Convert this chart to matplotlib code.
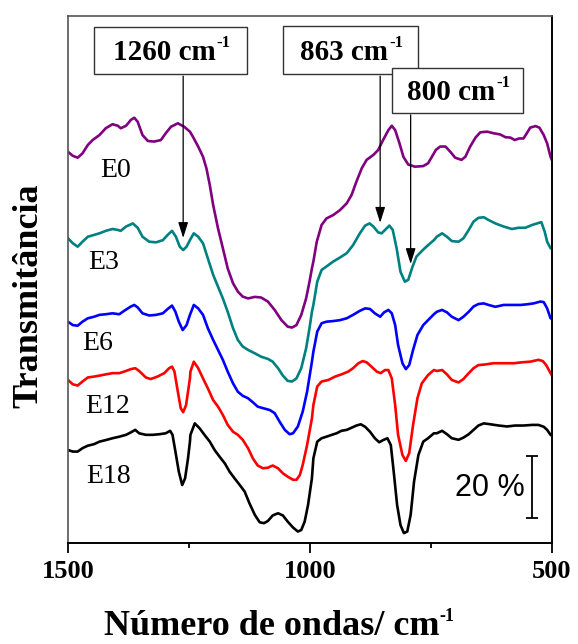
import matplotlib
matplotlib.use("Agg")
import matplotlib.pyplot as plt
from matplotlib.patches import Rectangle

# FTIR spectra: wavenumber (cm-1) and offset transmittance (%)
wn_e0 = [1500, 1490, 1480, 1470, 1459, 1449, 1435, 1422, 1408, 1397, 1391, 1380, 1370, 1363, 1356, 1346,
         1335, 1322, 1308, 1298, 1287, 1273, 1260, 1248,
         1242, 1231, 1221, 1214, 1207, 1200, 1190, 1180, 1170, 1159, 1149, 1139, 1128, 1114, 1101, 1087,
         1073, 1059, 1046, 1037, 1028, 1018, 1008, 1001, 996,
         993, 986, 976, 966, 952, 938, 924, 914, 904, 893, 883, 869, 859, 849, 838, 831, 824, 815, 807,
         797, 783, 766, 756, 744,
         740, 731, 720, 710, 700, 687, 679, 669, 658, 648, 634, 621, 607, 596, 586, 577, 568, 559, 552,
         545, 534, 526, 517, 510, 503, 500]
t_e0 = [126.2, 124.9, 124.3, 125.7, 128.4, 130.0, 131.6, 133.8, 135.1, 134.6, 133.8, 134.6, 136.5, 137.2,
        135.9, 131.6, 129.7, 129.5, 130.0, 132.2, 134.3, 135.4, 134.3, 132.7,
        131.1, 127.9, 124.6, 120.9, 115.5, 109.0, 101.5, 95.1, 88.6, 83.8, 81.1, 79.5, 78.9, 79.4, 79.2,
        77.9, 75.2, 71.9, 69.8, 69.5, 70.3, 73.6, 78.9, 84.3, 88.6,
        90.8, 97.2, 102.6, 104.7, 105.8, 107.4, 109.6, 112.3, 116.6, 120.9, 123.6, 125.2, 126.8, 130.0,
        133.2, 134.6, 133.2, 128.9, 124.6, 122.1, 121.4, 121.6, 122.5, 125.7,
        126.8, 127.9, 127.9, 126.2, 124.3, 123.6, 124.6, 127.9, 130.8, 132.5, 132.7, 132.2, 131.8, 130.9,
        130.8, 130.0, 130.5, 130.5, 132.2, 134.0, 134.5, 134.0, 131.6, 128.9, 124.6, 123.5]

wn_e3 = [1500, 1490, 1480, 1470, 1459, 1446, 1435, 1422, 1408, 1397, 1391, 1380, 1366, 1356, 1346, 1332,
         1318, 1304, 1294, 1285, 1277, 1269, 1262, 1255, 1248,
         1246, 1240, 1231, 1221, 1211, 1200, 1190, 1180, 1170, 1159, 1149, 1139, 1128, 1114, 1101, 1087,
         1077, 1066, 1056, 1046, 1037, 1028, 1018, 1008, 1001, 996,
         993, 985, 976, 966, 952, 938, 924, 911, 897, 886, 877, 869, 859, 852, 843, 836, 829, 821, 813,
         804, 797, 788, 780, 767, 756, 744,
         738, 727, 717, 707, 693, 683, 672, 662, 652, 641, 631, 617, 600, 583, 569, 555, 541, 531, 522,
         515, 510, 503, 500]
t_e3 = [98.3, 96.7, 95.6, 97.2, 98.8, 99.4, 99.9, 100.7, 101.3, 101.0, 100.7, 102.1, 103.1, 101.7, 98.8,
        97.2, 97.0, 97.7, 99.4, 100.7, 98.8, 95.6, 94.5, 95.6, 97.7,
        98.3, 99.9, 98.8, 96.7, 91.8, 86.5, 82.7, 78.9, 74.6, 69.3, 65.5, 63.4, 62.3, 61.2, 60.1, 59.4,
        58.5, 56.4, 54.0, 52.3, 52.1, 53.1, 56.4, 62.8, 69.3, 74.6,
        76.8, 84.3, 88.1, 89.2, 90.8, 92.1, 93.5, 96.1, 99.9, 102.4, 103.1, 102.1, 100.2, 99.9, 101.3,
        102.4, 101.0, 95.1, 87.5, 84.3, 84.9, 89.2, 92.4, 94.5, 96.1, 97.7,
        98.8, 99.9, 98.8, 97.4, 97.2, 98.3, 101.0, 103.7, 104.9, 105.1, 104.2, 103.1, 102.1, 101.3,
        101.7, 101.7, 102.6, 103.1, 103.5, 100.4, 97.2, 95.1, 94.9]

wn_e6 = [1500, 1490, 1480, 1470, 1459, 1446, 1435, 1422, 1408, 1394, 1384, 1370, 1363, 1356, 1346, 1332,
         1318, 1304, 1294, 1285, 1278, 1271, 1263, 1255, 1248,
         1240, 1231, 1221, 1211, 1200, 1190, 1180, 1170, 1159, 1149, 1139, 1128, 1118, 1108, 1097, 1083,
         1073, 1063, 1052, 1042, 1035, 1025, 1015, 1006, 996,
         993, 985, 976, 966, 952, 938, 924, 911, 897, 886, 876, 866, 855, 847, 838, 831, 824, 818, 809,
         802, 795, 787, 778, 766, 756, 744,
         738, 727, 717, 707, 693, 683, 672, 662, 652, 641, 631, 617, 600, 583, 565, 552, 538, 524, 517,
         510, 503, 500]
t_e6 = [71.4, 70.3, 70.1, 71.4, 72.5, 73.0, 73.6, 73.8, 74.1, 73.8, 74.9, 76.3, 76.8, 76.0, 74.1, 73.4,
        73.6, 74.1, 75.5, 76.6, 74.6, 71.4, 68.7, 70.3, 73.6,
        76.8, 75.7, 73.6, 69.3, 65.5, 62.3, 59.1, 55.3, 51.5, 48.8, 47.5, 46.7, 45.4, 44.0, 43.5, 42.9,
        41.9, 39.2, 36.5, 35.1, 35.4, 37.6, 42.4, 48.8, 58.5,
        61.7, 68.2, 70.9, 71.4, 71.6, 71.9, 72.5, 73.6, 74.9, 75.7, 75.5, 74.1, 73.0, 74.4, 75.2, 74.1,
        70.3, 63.9, 58.0, 56.1, 57.4, 62.3, 67.1, 70.3, 71.9, 73.8,
        74.6, 75.2, 74.4, 73.0, 71.9, 73.0, 74.6, 76.3, 77.1, 77.3, 76.8, 76.2, 76.8, 76.8, 76.8, 77.0,
        77.3, 77.9, 77.7, 75.7, 72.5, 72.3]

wn_e12 = [1500, 1490, 1480, 1470, 1459, 1446, 1435, 1422, 1408, 1394, 1384, 1370, 1361, 1353, 1339, 1329,
          1315, 1301, 1291, 1285, 1280, 1273, 1267, 1262, 1256, 1251, 1248,
          1247, 1240, 1231, 1221, 1211, 1200, 1190, 1180, 1170, 1159, 1149, 1139, 1128, 1118, 1108, 1097,
          1087, 1077, 1066, 1056, 1046, 1035, 1028, 1021, 1015, 1006, 996,
          993, 985, 976, 962, 948, 935, 921, 911, 900, 891, 883, 873, 862, 854, 845, 838, 831, 824, 818,
          809, 802, 795, 787, 778, 769, 756, 744,
          738, 727, 717, 707, 693, 683, 672, 662, 652, 638, 621, 600, 579, 562, 545, 528, 519, 512, 503, 500]
t_e12 = [52.6, 51.2, 50.8, 52.1, 53.4, 53.7, 54.0, 54.4, 54.8, 54.8, 55.3, 56.1, 56.4, 55.5, 53.4, 52.9,
         53.7, 54.8, 56.4, 56.9, 55.3, 48.8, 43.5, 42.2, 44.5, 49.9, 53.1,
         55.3, 58.5, 56.4, 53.1, 49.9, 46.1, 44.0, 41.3, 38.1, 35.9, 34.9, 33.3, 30.6, 27.3, 25.0, 24.1,
         24.3, 25.0, 24.1, 22.5, 21.4, 20.4, 20.4, 21.9, 25.2, 31.6, 40.2,
         44.5, 50.5, 52.1, 52.6, 53.7, 54.4, 55.3, 56.4, 58.0, 58.7, 58.3, 56.9, 55.3, 54.8, 55.8, 55.8,
         53.1, 44.5, 34.9, 28.4, 26.5, 29.0, 38.1, 46.7, 51.5, 54.2, 55.8,
         55.5, 55.8, 54.4, 52.6, 51.8, 52.9, 54.8, 56.4, 57.4, 57.6, 58.0, 58.0, 58.0, 58.3, 58.5, 59.1,
         58.7, 57.4, 54.8, 54.0]

wn_e18 = [1500, 1490, 1480, 1470, 1459, 1446, 1435, 1422, 1408, 1394, 1380, 1370, 1361, 1353, 1339, 1325,
          1311, 1298, 1289, 1284, 1278, 1271, 1264, 1258, 1252, 1248,
          1247, 1238, 1228, 1218, 1207, 1197, 1187, 1176, 1166, 1156, 1145, 1135, 1125, 1114, 1104, 1095,
          1087, 1077, 1066, 1056, 1046, 1035, 1025, 1018, 1011, 1004, 996,
          993, 985, 976, 966, 955, 945, 935, 924, 914, 904, 895, 886, 876, 866, 857, 849, 840, 833, 827,
          820, 813, 806, 799, 792, 785, 776, 766, 756, 744,
          738, 727, 717, 707, 693, 683, 672, 662, 652, 641, 627, 610, 593, 576, 559, 541, 528, 517, 510,
          503, 500]
t_e18 = [30.0, 29.5, 29.5, 30.6, 31.4, 31.9, 32.7, 33.2, 33.8, 34.3, 34.9, 35.7, 36.5, 35.4, 34.9, 34.9,
         35.1, 35.4, 36.2, 34.9, 29.5, 23.0, 18.7, 20.9, 27.3, 32.7,
         34.9, 38.6, 37.0, 34.9, 32.7, 30.0, 27.9, 25.7, 23.0, 20.9, 18.7, 16.6, 12.8, 9.1, 6.7, 6.4,
         7.1, 8.9, 9.6, 8.9, 6.9, 5.0, 3.7, 4.2, 6.9, 12.3, 20.9,
         27.3, 32.7, 33.8, 34.3, 34.9, 35.4, 36.2, 36.5, 37.2, 37.9, 38.3, 37.5, 35.9, 33.8, 32.5, 33.2,
         33.8, 31.6, 23.0, 12.3, 5.8, 3.2, 3.7, 9.1, 19.8, 28.4, 32.7, 33.8, 35.4,
         35.4, 36.2, 35.1, 33.8, 33.3, 34.0, 35.1, 36.5, 37.9, 38.6, 38.3, 37.9, 37.6, 37.9, 37.9, 38.1,
         38.1, 37.5, 36.5, 34.9, 34.6]

sample_names = ["E0", "E3", "E6", "E12", "E18"]
sample_colors = ["#800080", "#008080", "#0000ff", "#ff0000", "#000000"]
name_pos = [(1401, 120.3), (1426, 90.6), (1438, 64.5), (1419, 43.9), (1417, 21.6)]

band_labels = ["1260", "863", "800"]
band_arrow_x = [1262, 855, 792]
band_arrow_tip = [98.4, 103.3, 90.0]

scale_bar_pct = 20

x_ticks = [1500, 1000, 500]
x_minor = [1250, 750]

SERIF = "Liberation Serif"

fig = plt.figure(figsize=(5.78, 6.44), dpi=100)
ax = fig.add_axes([0.1176, 0.1568, 0.8374, 0.8183])

series = [(wn_e0, t_e0), (wn_e3, t_e3), (wn_e6, t_e6), (wn_e12, t_e12), (wn_e18, t_e18)]
for (wn, t), c in zip(series, sample_colors):
    ax.plot(wn, t, color=c, lw=1.9, solid_joinstyle="round", solid_capstyle="round")

for name, (px, py) in zip(sample_names, name_pos):
    ax.text(px, py, name, family=SERIF, fontsize=20, ha="center", va="center")

ax.set_xlim(1500, 500)
ax.set_ylim(0, 170)
ax.set_xticks(x_ticks)
ax.set_xticks(x_minor, minor=True)
ax.set_xticklabels([str(v) for v in x_ticks], family=SERIF, fontweight="bold", fontsize=19)
ax.tick_params(axis="x", which="major", direction="out", length=7, width=1.3, pad=5)
ax.tick_params(axis="x", which="minor", direction="out", length=3.5, width=1.3)
ax.set_yticks([])

for side in ["left", "top"]:
    ax.spines[side].set_color("#555555")
    ax.spines[side].set_linewidth(1.2)
for side in ["bottom", "right"]:
    ax.spines[side].set_color("#000000")
    ax.spines[side].set_linewidth(1.4)


def add_superscript(parent, size, dx=0.5, dy=2.0):
    """Attach a bold '-1' exponent to the upper right corner of a text artist."""
    ax.annotate("-1", xy=(1, 1), xycoords=parent, xytext=(dx, dy), textcoords="offset points",
                ha="left", va="top", family=SERIF, fontweight="bold", fontsize=size,
                annotation_clip=False, zorder=7)


xlab = ax.set_xlabel("Número de ondas/ cm", family=SERIF, fontweight="bold", fontsize=26)
ax.xaxis.set_label_coords(0.420, -0.128)
add_superscript(xlab, 13)

ax.set_ylabel("Transmitância", family=SERIF, fontweight="bold", fontsize=26)
ax.yaxis.set_label_coords(-0.046, 0.47)

# labelled boxes (axes fraction: x0, x1, y0, y1) with arrows down to the bands
boxes = [(0.054, 0.370, 0.890, 0.980), (0.4436, 0.7238, 0.890, 0.981), (0.6688, 0.9407, 0.8165, 0.902)]
for lab, (x0, x1, y0, y1), arr_x, tip in zip(band_labels, boxes, band_arrow_x, band_arrow_tip):
    ax.add_patch(Rectangle((x0, y0), x1 - x0, y1 - y0, transform=ax.transAxes,
                           facecolor="white", edgecolor="#333333", lw=1.0, zorder=5))
    main = ax.annotate(lab + " cm", xy=((x0 + x1) / 2, (y0 + y1) / 2), xycoords="axes fraction",
                       xytext=(-4.5, -1.5), textcoords="offset points",
                       family=SERIF, fontweight="bold", fontsize=21, ha="center", va="center",
                       zorder=6)
    add_superscript(main, 12, dx=0.5, dy=2.5)
    ax.annotate("", xy=(arr_x, tip), xycoords="data",
                xytext=(arr_x, y0 - 0.004), textcoords=("data", "axes fraction"),
                arrowprops=dict(arrowstyle="-|>,head_length=0.95,head_width=0.3",
                                mutation_scale=10, color="black", lw=0.9, shrinkA=0, shrinkB=0),
                zorder=4)

# 20 % scale bar
ax.errorbar([541], [18], yerr=[scale_bar_pct / 2], color="black", lw=1.3,
            capsize=4, capthick=1.3)
ax.text(556, 17.7, f"{scale_bar_pct} %", family="Liberation Sans", fontsize=22,
        ha="right", va="center")

fig.savefig("out.png", dpi=100)
